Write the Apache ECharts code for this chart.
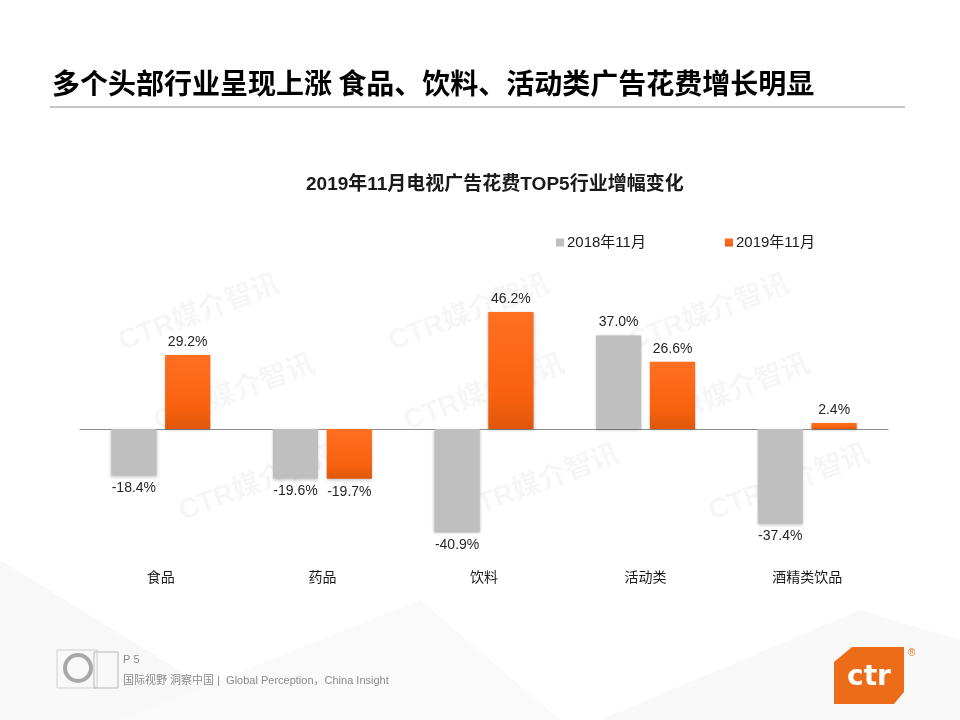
<!DOCTYPE html>
<html><head><meta charset="utf-8">
<script src="https://cdn.jsdelivr.net/npm/echarts@6/dist/echarts.min.js"></script>
<style>html,body{margin:0;padding:0;background:#fff}#c{width:960px;height:720px}</style>
</head><body><div id="c"></div>
<script>
const categories = ['食品', '药品', '饮料', '活动类', '酒精类饮品'];
const seriesNames = ['2018年11月', '2019年11月'];
const values2018 = [-18.4, -19.6, -40.9, 37.0, -37.4];
const values2019 = [29.2, -19.7, 46.2, 26.6, 2.4];
const pageTitle = '多个头部行业呈现上涨 食品、饮料、活动类广告花费增长明显';
const chartTitle = '2019年11月电视广告花费TOP5行业增幅变化';
const footerPage = 'P 5';
const footerText = '国际视野 洞察中国 |  Global Perception，China Insight';
const watermark = 'CTR媒介智讯';

const FONT = '"Liberation Sans", "Noto Sans CJK SC", sans-serif';
const chart = echarts.init(document.getElementById('c'), null, {renderer: 'canvas'});

const wmPos = [[115,330],[150,410],[175,500],[385,330],[400,410],[455,500],[625,330],[645,410],[705,500]];
const watermarks = wmPos.map(p => ({
  type: 'text', x: p[0], y: p[1], rotation: 0.36, z: -1,
  style: {text: watermark, fill: 'rgba(0,0,0,0.035)', font: 'bold 28px ' + FONT}
}));

const orangeGrad = new echarts.graphic.LinearGradient(0, 0, 0, 1, [
  {offset: 0, color: '#FF6F22'}, {offset: 0.7, color: '#F8620F'}, {offset: 1, color: '#E0560C'}
]);

const labelCfg = {
  show: true, fontSize: 14, color: '#262626', fontFamily: FONT, distance: 6,
  formatter: p => p.value.toFixed(1) + '%'
};
function dataWithLabels(arr) {
  return arr.map(v => ({value: v, label: {position: v >= 0 ? 'top' : 'bottom'}}));
}

chart.setOption({
  backgroundColor: '#ffffff',
  animation: false,
  graphic: [
    {type: 'polygon', z: -2, shape: {points: [[0,560],[260,720],[0,720]]}, style: {fill: '#f8f8f8'}},
    {type: 'polygon', z: -2, shape: {points: [[120,720],[420,600],[560,720]]}, style: {fill: '#fafafa'}},
    {type: 'polygon', z: -2, shape: {points: [[600,720],[860,610],[960,640],[960,720]]}, style: {fill: '#f9f9f9'}},
    {type: 'text', left: 52, top: 69, style: {text: pageTitle, fill: '#000', font: 'bold 28px "Noto Sans CJK SC", sans-serif'}},
    {type: 'line', shape: {x1: 50, y1: 107, x2: 905, y2: 107}, style: {stroke: '#8c8c8c', lineWidth: 1}},
    ...watermarks,
    {type: 'circle', shape: {cx: 78, cy: 668, r: 13}, style: {fill: 'none', stroke: '#a8a8a8', lineWidth: 4}},
    {type: 'rect', shape: {x: 57, y: 650, width: 40, height: 38}, style: {fill: 'none', stroke: '#cfcfcf', lineWidth: 1}},
    {type: 'rect', shape: {x: 94, y: 652, width: 24, height: 36}, style: {fill: 'none', stroke: '#b8b8b8', lineWidth: 1}},
    {type: 'text', left: 123, top: 654, style: {text: footerPage, fill: '#8a8a8a', font: '11px ' + FONT}},
    {type: 'text', left: 123, top: 675, style: {text: footerText, fill: '#8a8a8a', font: '11px ' + FONT}},
    {type: 'polygon', shape: {points: [[852,647],[904,647],[904,692],[894,704],[834,704],[834,662]]}, style: {fill: '#EC6C1A'}},
    {type: 'text', x: 869, y: 678, style: {text: 'ctr', fill: '#fff', font: 'bold 28px "DejaVu Sans", sans-serif', align: 'center', verticalAlign: 'middle'}},
    {type: 'text', x: 908, y: 648, style: {text: '®', fill: '#EC6C1A', font: '10px ' + FONT}}
  ],
  title: {
    text: chartTitle, left: 301, top: 170,
    textStyle: {fontSize: 19, fontWeight: 'bold', color: '#1a1a1a', fontFamily: FONT}
  },
  legend: {
    data: seriesNames, top: 230, left: 551, itemWidth: 8, itemHeight: 8, itemGap: 79,
    icon: 'rect',
    textStyle: {fontSize: 15, color: '#1a1a1a', fontFamily: FONT, padding: [0,0,0,-2]}
  },
  grid: {left: 80, right: 72, top: 302.5, bottom: 164.5, containLabel: false},
  xAxis: [
    {type: 'category', data: categories, axisLine: {onZero: true, lineStyle: {color: '#8c8c8c', width: 1}},
     axisTick: {show: false}, axisLabel: {show: false}},
    {type: 'category', data: categories, position: 'bottom', axisLine: {show: false}, axisTick: {show: false},
     axisLabel: {fontSize: 14, color: '#1a1a1a', fontFamily: FONT, margin: 16}}
  ],
  yAxis: {type: 'value', min: -50, max: 50, interval: 10, show: false},
  series: [
    {name: seriesNames[0], type: 'bar', xAxisIndex: 0, barWidth: '28%', barGap: '19%',
     itemStyle: {color: '#BFBFBF', shadowColor: 'rgba(0,0,0,0.25)', shadowBlur: 3, shadowOffsetY: 1},
     label: labelCfg, data: dataWithLabels(values2018)},
    {name: seriesNames[1], type: 'bar', xAxisIndex: 0, barWidth: '28%', barGap: '19%',
     itemStyle: {color: orangeGrad, shadowColor: 'rgba(0,0,0,0.25)', shadowBlur: 3, shadowOffsetY: 1},
     label: labelCfg, data: dataWithLabels(values2019)}
  ]
});
</script></body></html>
